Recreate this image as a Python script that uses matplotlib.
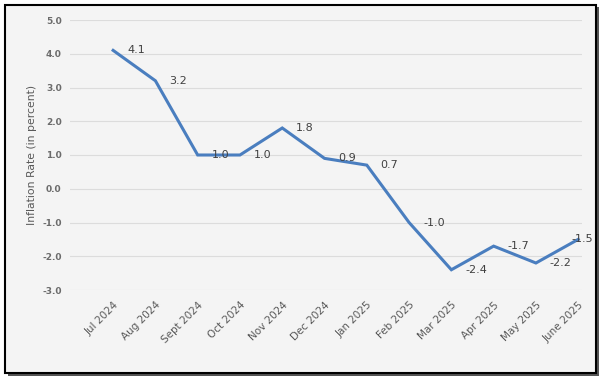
import matplotlib
matplotlib.use("Agg")
import matplotlib.pyplot as plt
from matplotlib.patches import Rectangle

months = ["Jul 2024", "Aug 2024", "Sept 2024", "Oct 2024", "Nov 2024", "Dec 2024",
          "Jan 2025", "Feb 2025", "Mar 2025", "Apr 2025", "May 2025", "June 2025"]
inflation = [4.1, 3.2, 1.0, 1.0, 1.8, 0.9, 0.7, -1.0, -2.4, -1.7, -2.2, -1.5]
yticks = [5.0, 4.0, 3.0, 2.0, 1.0, 0.0, -1.0, -2.0, -3.0]

W, H = 604, 378
fig = plt.figure(figsize=(W / 100, H / 100), dpi=100)
fig.patch.set_facecolor("white")

# shadow + frame
fig.patches.append(Rectangle((8 / W, 1 - 376 / H), 591 / W, 369 / H, transform=fig.transFigure,
                             facecolor="#555555", edgecolor="none", zorder=0))
fig.patches.append(Rectangle((5 / W, 1 - 373 / H), 591 / W, 368 / H, transform=fig.transFigure,
                             facecolor="#f4f4f4", edgecolor="black", linewidth=1.5, zorder=1))

ax = fig.add_axes([70 / W, 1 - 290 / H, 512 / W, 270 / H])
ax.set_facecolor("none")
ax.set_zorder(2)
x = list(range(len(months)))
ax.plot(x, inflation, color="#4a7ebf", linewidth=2.2, solid_joinstyle="miter", zorder=3)

last = len(x) - 1
for xi, v in zip(x, inflation):
    dx = -5 if xi == last else 10
    ax.annotate(f"{v:.1f}", (xi, v), xytext=(dx, 0), textcoords="offset points",
                ha="left", va="center", fontsize=8, color="#404040", zorder=4)

ax.set_ylim(-3, 5)
ax.set_xlim(-1.02, 11.09)
ax.set_yticks(yticks)
ax.set_yticklabels([f"{t:.1f}" for t in yticks], fontsize=6.5, color="#6b6b6b", fontweight="bold")
ax.set_xticks(x)
ax.set_xticklabels(months, rotation=45, ha="right", rotation_mode="anchor",
                   fontsize=7.5, color="#595959")
ax.tick_params(axis="both", length=0)
ax.tick_params(axis="y", pad=6)
ax.tick_params(axis="x", pad=7)
ax.grid(axis="y", color="#dcdcdc", linewidth=0.8)
ax.set_axisbelow(True)
for s in ax.spines.values():
    s.set_visible(False)
ax.set_ylabel("Inflation Rate (in percent)", fontsize=7.8, color="#595959", labelpad=4)

fig.savefig("out.png", dpi=100)
